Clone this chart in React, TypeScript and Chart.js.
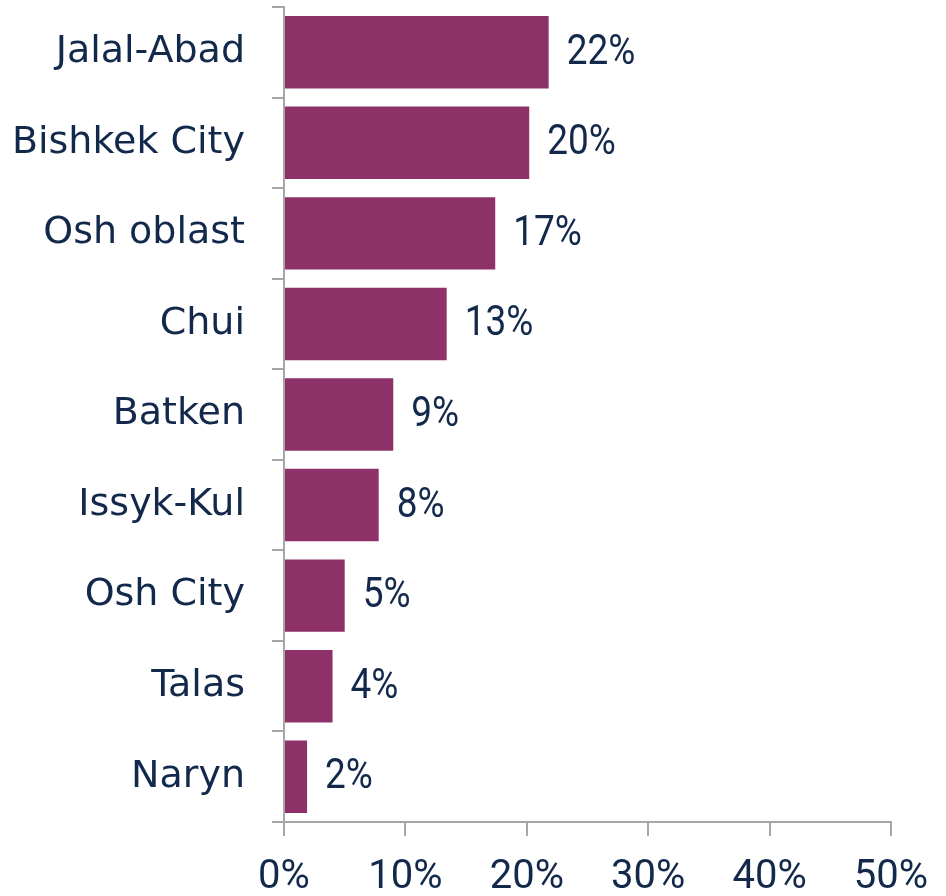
import React, { useEffect, useRef } from "react";
import { Chart, registerables } from "chart.js";

Chart.register(...registerables);

const categories = ["Jalal-Abad", "Bishkek City", "Osh oblast", "Chui", "Batken", "Issyk-Kul", "Osh City", "Talas", "Naryn"];
const values = [21.8, 20.2, 17.4, 13.4, 9.0, 7.8, 5.0, 4.0, 1.9];
const valueLabels = ["22%", "20%", "17%", "13%", "9%", "8%", "5%", "4%", "2%"];
const xTicks = [0, 10, 20, 30, 40, 50];

const LABEL_FONT = "'DejaVu Sans', sans-serif";
const NUM_FONT = "Roboto, sans-serif";
const TEXT = "#13294b";
const AXIS = "#a6a6a6";
const BAR = "#8e3169";

const valueLabelPlugin = {
  id: "valueLabels",
  afterDatasetsDraw(chart: any) {
    const ctx = chart.ctx;
    const meta = chart.getDatasetMeta(0);
    ctx.save();
    ctx.font = `42px ${NUM_FONT}`;
    ctx.fillStyle = TEXT;
    ctx.textAlign = "left";
    ctx.textBaseline = "middle";
    meta.data.forEach((bar: any, i: number) => {
      ctx.save();
      ctx.translate(bar.x + 18, bar.y + 1);
      ctx.scale(0.88, 1);
      ctx.fillText(valueLabels[i], 0, 0);
      ctx.restore();
    });
    ctx.restore();
  },
};

export default function App() {
  const ref = useRef<HTMLCanvasElement | null>(null);
  useEffect(() => {
    if (!ref.current) return;
    const chart = new Chart(ref.current, {
      type: "bar",
      data: {
        labels: categories,
        datasets: [
          {
            data: values,
            backgroundColor: BAR,
            borderWidth: 0,
            barPercentage: 0.8,
            categoryPercentage: 1,
          },
        ],
      },
      options: {
        indexAxis: "y",
        animation: false,
        responsive: false,
        maintainAspectRatio: false,
        layout: { padding: { top: 7, right: 55, left: 0, bottom: 0 } },
        plugins: { legend: { display: false }, tooltip: { enabled: false } },
        scales: {
          x: {
            min: 0,
            max: 50,
            afterBuildTicks: (s: any) => {
              s.ticks = xTicks.map((v) => ({ value: v }));
            },
            afterFit: (s: any) => {
              s.height = 74;
              s.paddingLeft = 0;
              s.paddingRight = 0;
            },
            grid: {
              drawOnChartArea: false,
              drawTicks: true,
              tickLength: 14,
              color: AXIS,
              lineWidth: 2,
            },
            border: { display: true, color: AXIS, width: 2 },
            ticks: {
              callback: (v: any) => `${v}%`,
              font: { family: NUM_FONT, size: 40 },
              color: TEXT,
              padding: 18,
              maxRotation: 0,
              autoSkip: false,
            },
          },
          y: {
            afterFit: (s: any) => {
              s.width = 284;
              s.paddingTop = 0;
              s.paddingBottom = 0;
            },
            grid: {
              offset: true,
              drawOnChartArea: false,
              drawTicks: true,
              tickLength: 12,
              color: AXIS,
              lineWidth: 2,
            },
            border: { display: true, color: AXIS, width: 2 },
            ticks: {
              font: { family: LABEL_FONT, size: 38 },
              color: TEXT,
              padding: 27,
              autoSkip: false,
            },
          },
        },
      },
      plugins: [valueLabelPlugin],
    });
    return () => chart.destroy();
  }, []);
  return (
    <div style={{ position: "fixed", left: 0, top: 0, width: 946, height: 896, background: "#fff" }}>
      <canvas ref={ref} width={946} height={896} style={{ width: 946, height: 896 }} />
    </div>
  );
}
